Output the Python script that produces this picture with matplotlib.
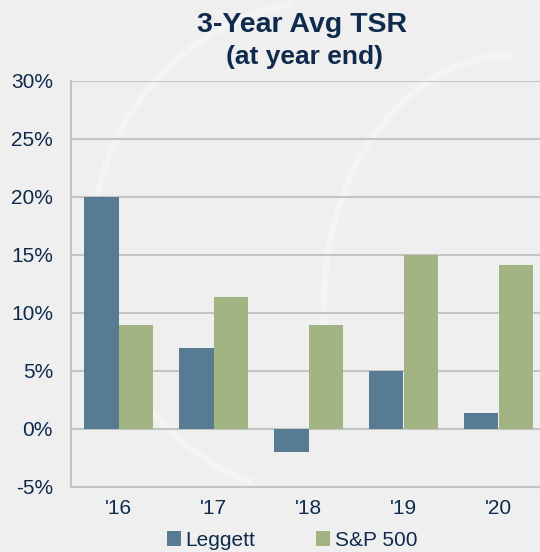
import numpy as np
import matplotlib
matplotlib.use("Agg")
import matplotlib.pyplot as plt
from matplotlib.patches import Arc

years = ["'16", "'17", "'18", "'19", "'20"]
leggett = [20.0, 7.0, -2.0, 5.0, 1.4]
sp500 = [9.0, 11.4, 9.0, 15.0, 14.1]
yticks = [-5, 0, 5, 10, 15, 20, 25, 30]

navy = "#0f2a4d"
blue = "#587b94"
green = "#a3b483"
bg = "#efefef"
grid = "#c4c4c4"

plt.rcParams["font.family"] = ["Liberation Sans", "DejaVu Sans"]

fig = plt.figure(figsize=(5.4, 5.52), dpi=100, facecolor=bg)

# faint watermark swirls
for cx, cy, w, h, t1, t2 in [(0.62, 0.55, 0.9, 0.9, 100, 250), (0.95, 0.45, 0.7, 0.9, 90, 200)]:
    fig.add_artist(Arc((cx, cy), w, h, theta1=t1, theta2=t2, transform=fig.transFigure,
                       color="#f4f4f4", lw=5, zorder=0))

ax = fig.add_axes([71 / 540, 1 - 487 / 552, 475 / 540, 406 / 552])
ax.set_facecolor("none")

x = np.arange(len(years))
w = 0.368
ax.bar(x - w / 2, leggett, w, color=blue, label="Leggett", zorder=3)
ax.bar(x + w / 2, sp500, w, color=green, label="S&P 500", zorder=3)

ax.set_xlim(-0.5, len(years) - 0.5)
ax.set_ylim(-5, 30)
ax.set_yticks(yticks)
ax.set_yticklabels([f"{v}%" for v in yticks])
ax.set_xticks(x)
ax.set_xticklabels(years)
ax.tick_params(length=0, labelsize=15, colors=navy)
ax.tick_params(axis="y", pad=13)
ax.tick_params(axis="x", pad=9)
ax.yaxis.grid(True, color=grid, lw=1.5, zorder=0)
for s in ["top", "right"]:
    ax.spines[s].set_visible(False)
ax.spines["left"].set_color(grid)
ax.spines["left"].set_linewidth(1.5)
ax.spines["bottom"].set_color(grid)
ax.spines["bottom"].set_linewidth(1.5)
ax.axhline(0, color=grid, lw=1.5, zorder=2)

fig.text(302 / 540, 1 - 25 / 552, "3-Year Avg TSR", ha="center", va="center",
         fontsize=20.5, fontweight="bold", color=navy)
fig.text(305 / 540, 1 - 57 / 552, "(at year end)", ha="center", va="center",
         fontsize=19, fontweight="bold", color=navy)

leg = fig.legend(loc="center", bbox_to_anchor=(292 / 540, 1 - 540 / 552), ncol=2, frameon=False,
                 fontsize=15, handlelength=0.7, handleheight=0.7, handletextpad=0.2,
                 columnspacing=2.9, labelcolor=navy)

fig.savefig("out.png", dpi=100, facecolor=bg)
